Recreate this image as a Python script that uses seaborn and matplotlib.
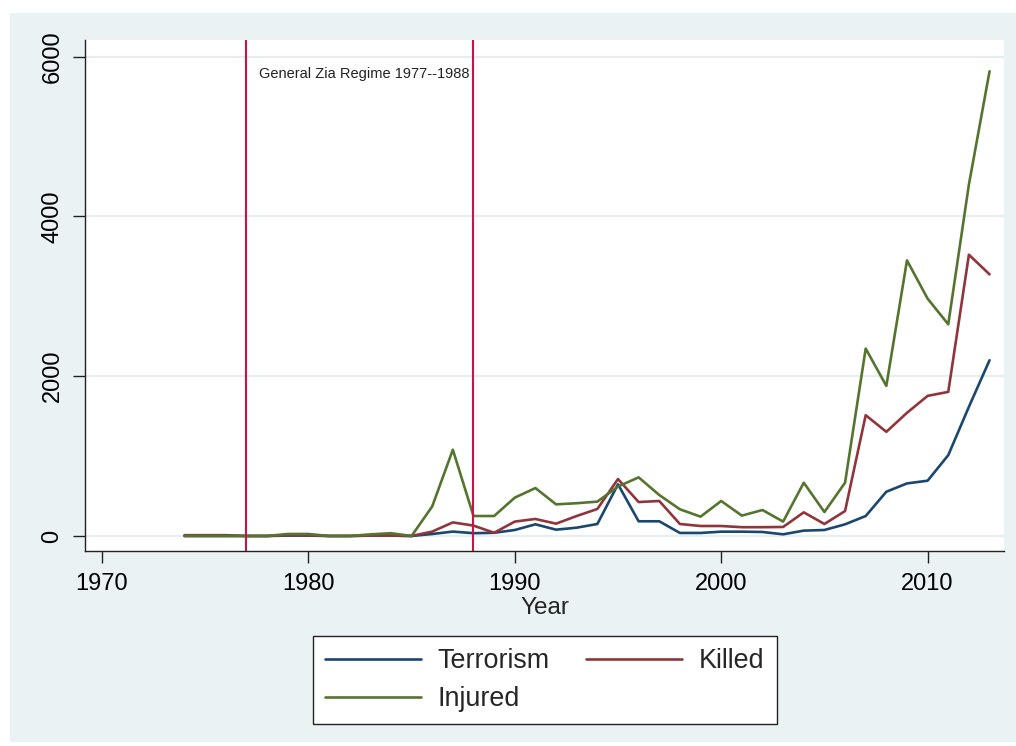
import numpy as np
import pandas as pd
import matplotlib
matplotlib.use("Agg")
import matplotlib.pyplot as plt
from matplotlib.patches import Rectangle
from matplotlib.lines import Line2D
import seaborn as sns

years = list(range(1974, 2014))

terrorism = [0, 0, 0, 0, 0, 5, 5, 0, 0, 5, 5, 0,
             25, 55, 35, 40, 75, 146, 79, 104, 150, 647, 184, 184,
             38, 38, 54, 54, 50, 21, 67, 75, 146, 250, 554, 658,
             692, 1012, 1617, 2200]

killed = [10, 10, 10, 0, 0, 10, 10, 0, 0, 5, 5, 0,
          55, 170, 130, 40, 180, 213, 154, 250, 338, 713, 425, 438,
          150, 125, 125, 110, 110, 113, 296, 150, 312, 1512, 1304, 1542,
          1754, 1804, 3521, 3275]

injured = [0, 0, 0, 0, 0, 25, 25, 0, 0, 20, 35, 0,
           370, 1080, 250, 250, 480, 600, 396, 410, 430, 618, 734, 513,
           334, 242, 438, 255, 325, 180, 667, 300, 667, 2346, 1879, 3450,
           2971, 2650, 4400, 5817]

series_names = ["Terrorism", "Killed", "Injured"]
series_colors = ["#1A476F", "#90353B", "#55752F"]

regime_start, regime_end = 1977, 1988
regime_label = "General Zia Regime 1977--1988"

x_ticks = [1970, 1980, 1990, 2000, 2010]
y_ticks = [0, 2000, 4000, 6000]

df = pd.DataFrame({
    "Year": years * 3,
    "value": terrorism + killed + injured,
    "series": sum([[n] * len(years) for n in series_names], []),
})

sns.set_theme(style="white")
plt.rcParams["font.family"] = ["Liberation Sans", "DejaVu Sans"]

bg = "#EAF2F3"
fig = plt.figure(figsize=(10.16, 7.46), dpi=100, facecolor="white")
# outer graph region
fig.patches.append(Rectangle((10 / 1016, 4 / 746), 1006 / 1016, 729 / 746,
                             transform=fig.transFigure, facecolor=bg,
                             edgecolor="none", zorder=-10))

ax = fig.add_axes([85 / 1016, 1 - 551 / 746, 919 / 1016, 511 / 746])
ax.set_facecolor("white")

palette = dict(zip(series_names, series_colors))
sns.lineplot(data=df, x="Year", y="value", hue="series", palette=palette,
             hue_order=series_names, linewidth=1.9, legend=False, ax=ax,
             zorder=3)

for yr in (regime_start, regime_end):
    ax.axvline(yr, color="#CC1144", linewidth=1.5, zorder=4)
ax.text(1977.6, 5780, regime_label, fontsize=10.5, color="#222222",
        va="center", ha="left", zorder=5)

ax.set_xlim(1969.18, 2013.7)
ax.set_ylim(-188, 6209)
ax.set_xticks(x_ticks)
ax.set_yticks(y_ticks)
ax.set_yticklabels([str(v) for v in y_ticks], rotation=90, va="center")
ax.tick_params(axis="both", which="major", direction="out", length=8.5,
               width=1.0, color="#222222", labelsize=17, labelcolor="black",
               left=True, bottom=True, pad=7)
ax.grid(axis="y", color="#E6EEF0", linewidth=1.6, zorder=0)
ax.grid(axis="x", visible=False)
for side in ("top", "right"):
    ax.spines[side].set_visible(False)
for side in ("left", "bottom"):
    ax.spines[side].set_color("#222222")
    ax.spines[side].set_linewidth(1.0)
ax.set_xlabel("Year", fontsize=17.5, labelpad=1.5)
ax.set_ylabel("")

handles = [Line2D([], [], color=c, linewidth=1.9) for c in series_colors]
# two columns, filled row-wise: Terrorism, Killed / Injured
order = [0, 2, 1]
leg = fig.legend([handles[i] for i in order], [series_names[i] for i in order],
                 ncol=2, loc="upper left",
                 bbox_to_anchor=(313 / 1016, 1 - 636 / 746),
                 fontsize=19.4, frameon=True, fancybox=False,
                 edgecolor="#222222", facecolor="white", framealpha=1,
                 handlelength=3.55, handletextpad=0.63, columnspacing=1.35,
                 labelspacing=0.44, borderpad=0.45, borderaxespad=0)
leg.get_frame().set_linewidth(1.0)

fig.savefig("out.png", dpi=100, facecolor="white")
